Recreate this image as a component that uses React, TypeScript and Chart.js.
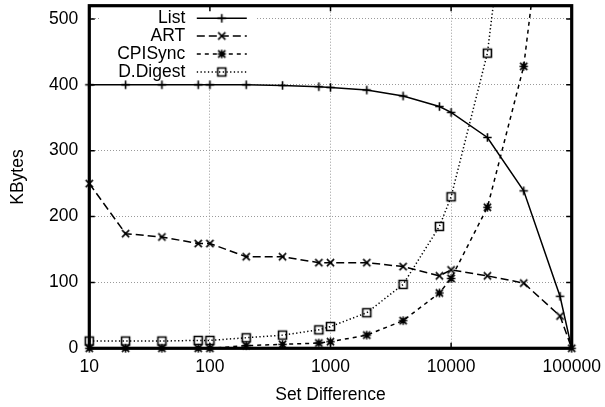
import React, { useEffect, useRef } from "react";
import { Chart, registerables } from "chart.js";

Chart.register(...registerables);

// ---- data ----
const setDiff = [10, 20, 40, 80, 100, 200, 400, 800, 1000, 2000, 4000, 8000, 10000, 20000, 40000, 80000, 100000];
const listKB = [400, 400, 400, 400, 400, 400, 399, 397, 396, 392, 383, 367, 358, 320, 239, 79, 0];
const artKB = [250, 174, 169, 159, 159, 139, 139, 130, 130, 130, 124, 110, 119, 110, 99, 49, 0];
const cpiSyncKB = [0, 0, 0, 0, 0, 4, 6, 8, 10, 20, 42, 84, 106, 214, 428, 880, null];
const dDigestKB = [11, 11, 11, 12, 12, 16, 20, 28, 33, 54, 97, 185, 230, 448, 900, null, null];
const seriesNames = ["List", "ART", "CPISync", "D.Digest"];
const xTickValues = [10, 100, 1000, 10000, 100000];
const yTickValues = [0, 100, 200, 300, 400, 500];
const xTitle = "Set Difference";
const yTitle = "KBytes";

const FONT = "Liberation Sans, Arial, Helvetica, sans-serif";
const FSIZE = 17.5;

function makeMarker(kind: string): HTMLCanvasElement {
  const s = 13;
  const c = document.createElement("canvas");
  c.width = s;
  c.height = s;
  const g = c.getContext("2d")!;
  g.strokeStyle = "#000";
  g.lineWidth = 1.6;
  const m = s / 2;
  const r = 4.2;
  const d = 3.6;
  g.beginPath();
  if (kind === "plus" || kind === "star") {
    g.moveTo(m - r, m);
    g.lineTo(m + r, m);
    g.moveTo(m, m - r);
    g.lineTo(m, m + r);
  }
  if (kind === "cross" || kind === "star") {
    g.moveTo(m - d, m - d);
    g.lineTo(m + d, m + d);
    g.moveTo(m - d, m + d);
    g.lineTo(m + d, m - d);
  }
  if (kind === "square") {
    g.rect(m - 4, m - 4, 8, 8);
  }
  g.stroke();
  return c;
}

export default function App() {
  const ref = useRef<HTMLCanvasElement | null>(null);

  useEffect(() => {
    document.body.style.margin = "0";
    const canvas = ref.current!;
    const markers = [makeMarker("plus"), makeMarker("cross"), makeMarker("star"), makeMarker("square")];
    const dashes: number[][] = [[], [8, 4], [4, 4], [1.3, 2.4]];
    const values = [listKB, artKB, cpiSyncKB, dDigestKB];

    const datasets = seriesNames.map((name, i) => ({
      label: name,
      data: setDiff.map((x, j) => ({ x, y: values[i][j] })),
      borderColor: "#000",
      backgroundColor: "#000",
      borderWidth: 1.5,
      borderDash: dashes[i],
      pointStyle: markers[i],
      pointRadius: 4,
      tension: 0,
      spanGaps: false,
      clip: { left: 6, right: 6, top: 0, bottom: 6 },
    }));

    const legendPlugin = {
      id: "gpLegend",
      beforeDatasetsDraw(chart: any) {
        const ctx = chart.ctx;
        const a = chart.chartArea;
        ctx.save();
        ctx.fillStyle = "#fff";
        ctx.fillRect(a.left + 11, a.top + 1.5, 156, 77);
        ctx.restore();
      },
      afterDatasetsDraw(chart: any) {
        const ctx = chart.ctx;
        const a = chart.chartArea;
        ctx.save();
        ctx.font = `${FSIZE}px ${FONT}`;
        ctx.fillStyle = "#000";
        ctx.textAlign = "right";
        ctx.textBaseline = "middle";
        const rowY = [18.3, 36, 54, 72];
        const textRight = a.left + 96;
        const x0 = a.left + 107.5;
        const x1 = a.left + 157.5;
        seriesNames.forEach((name, i) => {
          const y = rowY[i];
          ctx.fillText(name, textRight, y);
          ctx.beginPath();
          ctx.setLineDash(dashes[i]);
          ctx.lineWidth = 1.5;
          ctx.strokeStyle = "#000";
          ctx.moveTo(x0, y);
          ctx.lineTo(x1, y);
          ctx.stroke();
          ctx.setLineDash([]);
          const mk = markers[i];
          ctx.drawImage(mk, (x0 + x1) / 2 - mk.width / 2, y - mk.height / 2);
        });
        ctx.restore();
      },
    };

    const borderPlugin = {
      id: "gpBorder",
      afterDatasetsDraw(chart: any) {
        const ctx = chart.ctx;
        const a = chart.chartArea;
        const xs = chart.scales.x;
        const ys = chart.scales.y;
        ctx.save();
        ctx.strokeStyle = "#000";
        ctx.lineWidth = 1.5;
        ctx.beginPath();
        xTickValues.forEach((v) => {
          const px = xs.getPixelForValue(v);
          ctx.moveTo(px, a.bottom);
          ctx.lineTo(px, a.bottom - 5.5);
          ctx.moveTo(px, a.top);
          ctx.lineTo(px, a.top + 5.5);
        });
        yTickValues.forEach((v) => {
          const py = ys.getPixelForValue(v);
          ctx.moveTo(a.left, py);
          ctx.lineTo(a.left + 5.5, py);
          ctx.moveTo(a.right, py);
          ctx.lineTo(a.right - 5.5, py);
        });
        ctx.stroke();
        ctx.lineWidth = 3.2;
        ctx.strokeRect(a.left, a.top, a.right - a.left, a.bottom - a.top);
        ctx.restore();
      },
    };

    const chart = new Chart(canvas, {
      type: "line",
      data: { datasets } as any,
      plugins: [legendPlugin, borderPlugin],
      options: {
        animation: false,
        responsive: false,
        devicePixelRatio: 1,
        layout: { padding: { left: 0, right: 33.3, top: 5.7, bottom: 0 } },
        plugins: { legend: { display: false }, tooltip: { enabled: false } },
        scales: {
          x: {
            type: "logarithmic",
            min: 10,
            max: 100000,
            afterBuildTicks: (s: any) => {
              s.ticks = xTickValues.map((v) => ({ value: v }));
            },
            afterFit: (s: any) => {
              s.height = 58.7;
              s.paddingLeft = 0;
              s.paddingRight = 0;
            },
            ticks: {
              autoSkip: false,
              maxRotation: 0,
              minRotation: 0,
              padding: 8.6,
              color: "#000",
              font: { family: FONT, size: FSIZE },
              callback: (v: any) => String(v),
            },
            grid: { color: "#9a9a9a", lineWidth: 1, drawTicks: false },
            border: { display: false, dash: [1, 2] },
            title: {
              display: true,
              text: xTitle,
              color: "#000",
              font: { family: FONT, size: FSIZE },
              padding: { top: 0, bottom: 1 },
            },
          },
          y: {
            type: "linear",
            min: 0,
            max: 520,
            afterBuildTicks: (s: any) => {
              s.ticks = yTickValues.map((v) => ({ value: v }));
            },
            afterFit: (s: any) => {
              s.width = 89.3;
              s.paddingTop = 0;
              s.paddingBottom = 0;
            },
            ticks: {
              padding: 11,
              color: "#000",
              font: { family: FONT, size: FSIZE },
              callback: (v: any) => String(v),
            },
            grid: { color: "#9a9a9a", lineWidth: 1, drawTicks: false },
            border: { display: false, dash: [1, 2] },
            title: {
              display: true,
              text: yTitle,
              color: "#000",
              font: { family: FONT, size: FSIZE },
              padding: { top: 7.4, bottom: 0 },
            },
          },
        },
      } as any,
    });

    return () => chart.destroy();
  }, []);

  return (
    <div style={{ width: 605, height: 407 }}>
      <canvas ref={ref} width={605} height={407} style={{ display: "block", width: 605, height: 407 }} />
    </div>
  );
}
